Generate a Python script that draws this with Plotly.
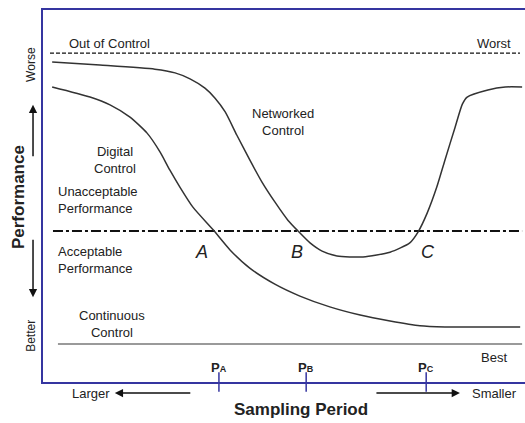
import plotly.graph_objects as go

# ---- data (conceptual units: x = sampling position 0..100, y = performance 0..100) ----
networked_x = [1.9, 11.8, 23.2, 27.4, 30.5, 33.6, 35.7, 37.8, 40.2, 42.9, 45.4, 48.1, 50.8, 52.9,
               55.4, 57.9, 61.0, 66.4, 72.0, 76.1, 77.8, 79.7, 81.7, 83.4, 85.5, 87.0, 88.0,
               92.3, 95.9, 99.4]
networked_y = [86.0, 85.2, 84.1, 83.1, 81.5, 79.0, 76.3, 72.6, 66.4, 59.7, 53.8, 48.4, 43.5, 40.6,
               37.4, 35.2, 33.9, 33.6, 34.9, 37.4, 40.3, 45.4, 52.4, 59.7, 68.5, 74.7, 76.6,
               78.5, 79.3, 79.3]
digital_x = [1.9, 9.75, 13.9, 18.05, 21.6, 24.3, 26.3, 28.4, 31.1, 35.3, 38.8, 42.9, 48.1, 53.3,
             59.5, 65.8, 72.0, 78.2, 83.4, 99.0]
digital_y = [79.3, 76.6, 74.5, 71.2, 66.9, 61.8, 57.0, 52.4, 47.0, 40.9, 35.5, 30.6, 26.3, 23.1,
             20.2, 18.0, 16.4, 15.1, 14.8, 14.8]

out_of_control_x = [1.45, 98.96]
out_of_control_y = [88.4, 88.4]
acceptable_x = [2.07, 99.4]
acceptable_y = [40.6, 40.6]
continuous_x = [3.1, 99.4]
continuous_y = [10.2, 10.2]

tick_vals = [36.5, 54.6, 79.5]
tick_letters = ["A", "B", "C"]
crossing_x = [32.9, 52.7, 79.9]
crossing_y = [34.9, 34.9, 34.9]

FONT = "Liberation Sans, Arial, sans-serif"
AXIS_BLUE = "#3535a0"
TXT = "#222222"

fig = go.Figure()

fig.add_trace(go.Scatter(x=out_of_control_x, y=out_of_control_y, mode="lines",
                         line=dict(color="#111", width=1.2, dash="4px,2px"), hoverinfo="skip"))
fig.add_trace(go.Scatter(x=acceptable_x, y=acceptable_y, mode="lines",
                         line=dict(color="#111", width=2, dash="10px,3px,3px,3px"), hoverinfo="skip"))
fig.add_trace(go.Scatter(x=continuous_x, y=continuous_y, mode="lines",
                         line=dict(color="#9a9a9a", width=2), hoverinfo="skip"))
fig.add_trace(go.Scatter(x=networked_x, y=networked_y, mode="lines",
                         line=dict(color="#333", width=1.5, shape="spline", smoothing=0.6), hoverinfo="skip"))
fig.add_trace(go.Scatter(x=digital_x, y=digital_y, mode="lines",
                         line=dict(color="#333", width=1.5, shape="spline", smoothing=0.6), hoverinfo="skip"))
# tick marks crossing the x axis
fig.add_trace(go.Scatter(x=tick_vals, y=[0] * len(tick_vals), mode="markers",
                         marker=dict(symbol="line-ns-open", size=14, color=AXIS_BLUE,
                                     line=dict(color=AXIS_BLUE, width=1.5)),
                         cliponaxis=False, hoverinfo="skip"))

ann = []
def txt(x, y, s, size=13, xa="center", ya="middle", ref="x", **kw):
    if ref == "paper":
        xr, yr = "paper", "paper"
    else:
        xr, yr = "x", "y"
    ann.append(dict(x=x, y=y, xref=xr, yref=yr, text=s, showarrow=False, xanchor=xa, yanchor=ya,
                    font=dict(family=FONT, size=size, color=TXT), **kw))

txt(5.0, 91.1, "Out of Control", xa="left")
txt(97.5, 91.1, "Worst", xa="right")
txt(49.8, 69.9, "Networked<br>Control")
txt(14.9, 59.7, "Digital<br>Control")
txt(2.6, 48.9, "Unacceptable<br>Performance", xa="left", align="left")
txt(2.6, 32.8, "Acceptable<br>Performance", xa="left", align="left")
txt(14.3, 15.6, "Continuous<br>Control")
txt(93.6, 6.7, "Best")
for cx, cy, letter in zip(crossing_x, crossing_y, tick_letters):
    txt(cx, cy, "<i>" + letter + "</i>", size=18)
for tv, letter in zip(tick_vals, tick_letters):
    txt(tv, 4.0, "<b>P<span style='font-size:9px'>" + letter + "</span></b>", size=13)
# outside the plotting area -> paper coordinates
txt(0.099, -0.0296, "Larger", ref="paper")
txt(0.988, -0.0296, "Smaller", xa="right", ref="paper")
txt(0.535, -0.075, "<b>Sampling Period</b>", size=17, ref="paper")
txt(-0.052, 0.497, "<b>Performance</b>", size=17, textangle=-90, ref="paper")
txt(-0.025, 0.855, "Worse", size=12, textangle=-90, ref="paper")
txt(-0.025, 0.124, "Better", size=12, textangle=-90, ref="paper")

def arrow(x, y, ax, ay):
    ann.append(dict(x=x, y=y, xref="paper", yref="paper", ax=ax, ay=ay, axref="pixel", ayref="pixel",
                    text="", showarrow=True, arrowhead=2, arrowsize=1.1, arrowwidth=1.5,
                    arrowcolor="#111", standoff=0, startstandoff=0))

arrow(-0.0207, 0.745, 0, 53)
arrow(-0.0207, 0.228, 0, -59)
arrow(0.149, -0.0296, 77, 0)
arrow(0.865, -0.0296, -85, 0)

fig.update_layout(
    width=525, height=423,
    margin=dict(l=43, r=0, t=10, b=41),
    paper_bgcolor="white", plot_bgcolor="white",
    showlegend=False,
    annotations=ann,
    xaxis=dict(range=[0, 100], showline=True, linecolor=AXIS_BLUE, linewidth=1.5, mirror=True,
               showgrid=False, zeroline=False, showticklabels=False, ticks=""),
    yaxis=dict(range=[0, 100], showline=True, linecolor=AXIS_BLUE, linewidth=1.5, mirror=False,
               showgrid=False, zeroline=False, showticklabels=False, ticks=""),
)

fig.write_html("out.html", config={"displayModeBar": False},
               post_script="document.body.style.margin='0px';")
